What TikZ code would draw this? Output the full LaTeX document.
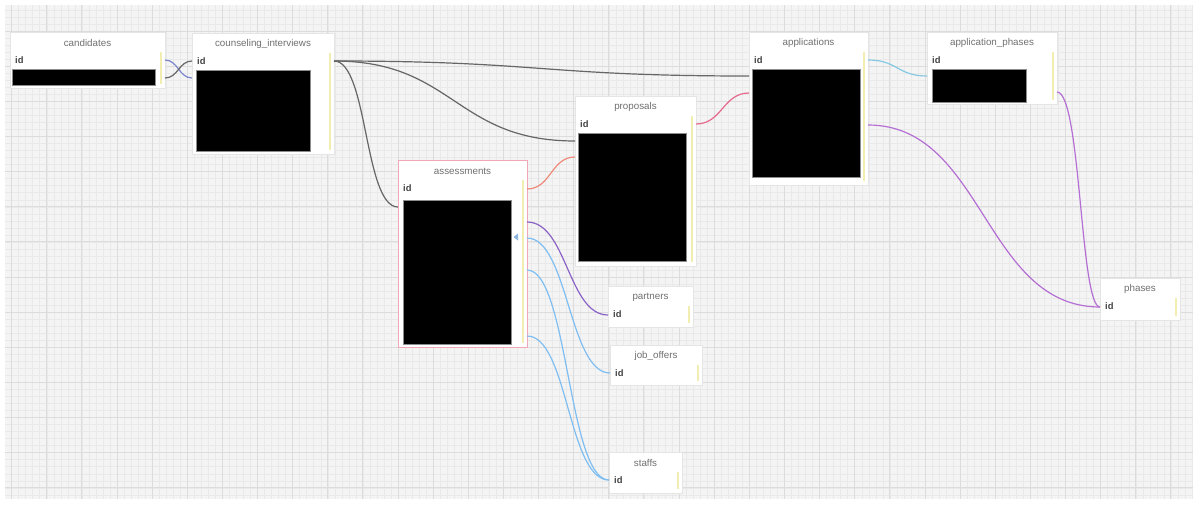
\documentclass[tikz,border=0pt]{standalone}
\usepackage{fontspec}
\setmainfont{Liberation Sans}
\usetikzlibrary{calc}
\definecolor{gridbg}{HTML}{F4F4F4}
\definecolor{gridminor}{HTML}{E9E9E9}
\definecolor{gridmajor}{HTML}{DCDCDC}
\definecolor{ttlcol}{HTML}{707070}
\definecolor{idcol}{HTML}{444444}
\definecolor{barcol}{HTML}{F2EDB0}
\definecolor{grayconn}{HTML}{666666}
\definecolor{bluepurp}{HTML}{7A84CC}
\definecolor{salmon}{HTML}{EE8A78}
\definecolor{pinkconn}{HTML}{E66A8C}
\definecolor{cyanconn}{HTML}{86C8E2}
\definecolor{purpconn}{HTML}{B56FD4}
\definecolor{violetconn}{HTML}{8A62C6}
\definecolor{skyconn}{HTML}{7EBEF2}
\definecolor{pinkborder}{HTML}{F0A8B8}
\definecolor{markcol}{HTML}{8AB4DC}
\begin{document}
\begin{tikzpicture}[x=1pt,y=-1pt,
  tblbox/.style={fill=white,draw=black!10,line width=0.4pt,inner sep=0pt,outer sep=0pt},
  blk/.style={fill=black,draw=black!45,line width=0.6pt,inner sep=0pt,outer sep=0pt},
  ttl/.style={font=\fontsize{9.8}{11}\selectfont,text=ttlcol,inner sep=0pt},
  idtxt/.style={font=\fontsize{9.4}{11}\selectfont\bfseries,text=idcol,inner sep=0pt},
  ybar/.style={draw=barcol,line width=2pt},
  conn/.style={line width=1.2pt},
  minorline/.style={draw=gridminor,line width=0.45pt},
  majorline/.style={draw=gridmajor,line width=0.9pt}]
\useasboundingbox (0,0) rectangle (1200,509);
\fill[white] (0,0) rectangle (1200,509);
% grid
\begin{scope}
\clip (5,5) rectangle (1193,499);
\fill[gridbg] (5,5) rectangle (1193,499);
\foreach \i in {0,...,170} {\draw[minorline] ({4.57+7.026*\i},5) -- ({4.57+7.026*\i},499);}
\foreach \i in {0,...,71} {\draw[minorline] (5,{3.0+7.026*\i}) -- (1193,{3.0+7.026*\i});}
\foreach \i in {0,...,34} {\draw[majorline] ({11.6+35.13*\i},5) -- ({11.6+35.13*\i},499);}
\foreach \i in {1,...,14} {\draw[majorline] (5,{-4.03+35.13*\i}) -- (1193,{-4.03+35.13*\i});}
\end{scope}

\newcommand{\erdtable}[6]{%
  \node[tblbox,minimum width=#4pt,minimum height=#5pt,anchor=north west] (#1) at (#2,#3) {};
  \node[ttl] (#1-t) at ([yshift=-11pt]#1.north) {#6};
  \node[idtxt,anchor=west] (#1-id) at ([xshift=5pt,yshift=-28pt]#1.north west) {id};
  \draw[ybar] ([xshift=-4pt,yshift=-20pt]#1.north east) -- ([xshift=-4pt,yshift=4pt]#1.south east);
}

% tables
\erdtable{cand}{10}{32}{155}{56}{candidates}
\erdtable{couns}{192}{33}{142}{121}{counseling\_interviews}
\erdtable{apps}{749}{32}{119}{153}{applications}
\erdtable{appph}{927}{32}{130}{72}{application\_phases}
\erdtable{prop}{575}{96}{121}{170}{proposals}
\erdtable{assess}{398}{160}{129}{187}{assessments}
\draw[pinkborder,line width=1pt] (assess.north west) rectangle (assess.south east);
\erdtable{partners}{608}{286}{85}{41}{partners}
\erdtable{jobs}{610}{345}{92}{40}{job\_offers}
\erdtable{staffs}{609}{452}{73}{41}{staffs}
\erdtable{phases}{1100}{278}{80}{42}{phases}

% hidden column blocks
\node[blk,anchor=north west,minimum width=143pt,minimum height=16pt] (cand-b) at (12,69) {};
\node[blk,anchor=north west,minimum width=114pt,minimum height=81pt] (couns-b) at (196,70) {};
\node[blk,anchor=north west,minimum width=108pt,minimum height=108pt] (apps-b) at (752,69) {};
\node[blk,anchor=north west,minimum width=94pt,minimum height=33pt] (appph-b) at (932,69) {};
\node[blk,anchor=north west,minimum width=108pt,minimum height=128pt] (prop-b) at (578,133) {};
\node[blk,anchor=north west,minimum width=108pt,minimum height=144pt] (assess-b) at (403,200) {};

% small marker in assessments
\fill[markcol] (513.5,237) -- (518,233.5) -- (518,240.5) -- cycle;

% connectors
\draw[conn,bluepurp] ([yshift=-28pt]cand.north east) .. controls +(13,0) and +(-13,0) .. ([yshift=-45pt]couns.north west);
\draw[conn,grayconn] ([yshift=-46pt]cand.north east) .. controls +(13,0) and +(-13,0) .. ([yshift=-28pt]couns.north west);

\draw[conn,grayconn] ([yshift=-28pt]couns.north east) .. controls +(207,0) and +(-207,0) .. ([yshift=-44pt]apps.north west);
\draw[conn,grayconn] ([yshift=-28pt]couns.north east) .. controls +(120,0) and +(-120,0) .. ([yshift=-45pt]prop.north west);
\draw[conn,grayconn] ([yshift=-28pt]couns.north east) .. controls +(34,0) and +(-34,0) .. ([yshift=-47pt]assess.north west);

\draw[conn,salmon] ([yshift=-29pt]assess.north east) .. controls +(24,0) and +(-24,0) .. ([yshift=-61pt]prop.north west);
\draw[conn,pinkconn] ([yshift=-28pt]prop.north east) .. controls +(26,0) and +(-26,0) .. ([yshift=-61pt]apps.north west);
\draw[conn,cyanconn] ([yshift=-28pt]apps.north east) .. controls +(30,0) and +(-30,0) .. ([yshift=-44pt]appph.north west);
\draw[conn,purpconn] ([yshift=-93pt]apps.north east) .. controls +(116,0) and +(-116,0) .. ([yshift=-29pt]phases.north west);
\draw[conn,purpconn] ([yshift=-60pt]appph.north east) .. controls +(24,0) and +(-20,0) .. ([yshift=-29pt]phases.north west);

\draw[conn,violetconn] ([yshift=-62pt]assess.north east) .. controls +(40,0) and +(-40,0) .. ([yshift=-29pt]partners.north west);
\draw[conn,skyconn] ([yshift=-78pt]assess.north east) .. controls +(41,0) and +(-41,0) .. ([yshift=-28pt]jobs.north west);
\draw[conn,skyconn] ([yshift=-110pt]assess.north east) .. controls +(41,0) and +(-41,0) .. ([yshift=-28pt]staffs.north west);
\draw[conn,skyconn] ([yshift=-176pt]assess.north east) .. controls +(41,0) and +(-41,0) .. ([yshift=-28pt]staffs.north west);
\end{tikzpicture}
\end{document}
